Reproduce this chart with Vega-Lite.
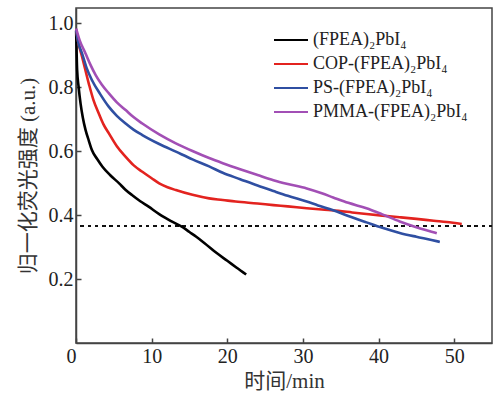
{
  "$schema": "https://vega.github.io/schema/vega-lite/v6.json",
  "width": 416,
  "height": 335,
  "autosize": {"type": "none"},
  "padding": {"left": 76, "top": 8, "right": 1, "bottom": 53},
  "background": "white",
  "config": {
    "font": "Liberation Serif, serif",
    "view": {"stroke": "#444", "strokeWidth": 1.5},
    "axis": {
      "domainColor": "#444", "domainWidth": 1.5,
      "tickColor": "#444", "tickWidth": 1.5, "tickSize": -5,
      "grid": false
    }
  },
  "data": {"values": [
    {"s":"(FPEA)₂PbI₄","t":0.02,"v":0.975},{"s":"(FPEA)₂PbI₄","t":0.15,"v":0.853},{"s":"(FPEA)₂PbI₄","t":0.35,"v":0.8},{"s":"(FPEA)₂PbI₄","t":0.6,"v":0.749},{"s":"(FPEA)₂PbI₄","t":0.9,"v":0.705},{"s":"(FPEA)₂PbI₄","t":1.26,"v":0.666},{"s":"(FPEA)₂PbI₄","t":1.7,"v":0.632},{"s":"(FPEA)₂PbI₄","t":2.1,"v":0.603},{"s":"(FPEA)₂PbI₄","t":2.8,"v":0.575},{"s":"(FPEA)₂PbI₄","t":3.5,"v":0.551},{"s":"(FPEA)₂PbI₄","t":4.5,"v":0.525},{"s":"(FPEA)₂PbI₄","t":5.7,"v":0.499},{"s":"(FPEA)₂PbI₄","t":6.5,"v":0.48},{"s":"(FPEA)₂PbI₄","t":7.4,"v":0.4625},{"s":"(FPEA)₂PbI₄","t":8.5,"v":0.443},{"s":"(FPEA)₂PbI₄","t":9.6,"v":0.426},{"s":"(FPEA)₂PbI₄","t":11.0,"v":0.403},{"s":"(FPEA)₂PbI₄","t":12.5,"v":0.382},{"s":"(FPEA)₂PbI₄","t":14.1,"v":0.362},{"s":"(FPEA)₂PbI₄","t":15.0,"v":0.347},{"s":"(FPEA)₂PbI₄","t":15.9,"v":0.332},{"s":"(FPEA)₂PbI₄","t":17.0,"v":0.312},{"s":"(FPEA)₂PbI₄","t":18.6,"v":0.281},{"s":"(FPEA)₂PbI₄","t":20.0,"v":0.257},{"s":"(FPEA)₂PbI₄","t":21.2,"v":0.236},{"s":"(FPEA)₂PbI₄","t":22.5,"v":0.214},
    {"s":"COP-(FPEA)₂PbI₄","t":0.02,"v":0.978},{"s":"COP-(FPEA)₂PbI₄","t":0.3,"v":0.94},{"s":"COP-(FPEA)₂PbI₄","t":0.8,"v":0.895},{"s":"COP-(FPEA)₂PbI₄","t":1.7,"v":0.81},{"s":"COP-(FPEA)₂PbI₄","t":2.3,"v":0.76},{"s":"COP-(FPEA)₂PbI₄","t":3.0,"v":0.718},{"s":"COP-(FPEA)₂PbI₄","t":3.6,"v":0.685},{"s":"COP-(FPEA)₂PbI₄","t":4.35,"v":0.655},{"s":"COP-(FPEA)₂PbI₄","t":5.4,"v":0.615},{"s":"COP-(FPEA)₂PbI₄","t":6.56,"v":0.582},{"s":"COP-(FPEA)₂PbI₄","t":7.6,"v":0.556},{"s":"COP-(FPEA)₂PbI₄","t":8.77,"v":0.535},{"s":"COP-(FPEA)₂PbI₄","t":10.0,"v":0.515},{"s":"COP-(FPEA)₂PbI₄","t":11.0,"v":0.499},{"s":"COP-(FPEA)₂PbI₄","t":12.1,"v":0.487},{"s":"COP-(FPEA)₂PbI₄","t":13.2,"v":0.478},{"s":"COP-(FPEA)₂PbI₄","t":15.4,"v":0.463},{"s":"COP-(FPEA)₂PbI₄","t":17.6,"v":0.452},{"s":"COP-(FPEA)₂PbI₄","t":19.4,"v":0.447},{"s":"COP-(FPEA)₂PbI₄","t":21.1,"v":0.442},{"s":"COP-(FPEA)₂PbI₄","t":24.0,"v":0.436},{"s":"COP-(FPEA)₂PbI₄","t":26.1,"v":0.431},{"s":"COP-(FPEA)₂PbI₄","t":28.0,"v":0.427},{"s":"COP-(FPEA)₂PbI₄","t":30.5,"v":0.421},{"s":"COP-(FPEA)₂PbI₄","t":32.5,"v":0.417},{"s":"COP-(FPEA)₂PbI₄","t":34.7,"v":0.413},{"s":"COP-(FPEA)₂PbI₄","t":36.5,"v":0.408},{"s":"COP-(FPEA)₂PbI₄","t":38.4,"v":0.403},{"s":"COP-(FPEA)₂PbI₄","t":40.5,"v":0.398},{"s":"COP-(FPEA)₂PbI₄","t":42.8,"v":0.393},{"s":"COP-(FPEA)₂PbI₄","t":45.0,"v":0.388},{"s":"COP-(FPEA)₂PbI₄","t":47.3,"v":0.382},{"s":"COP-(FPEA)₂PbI₄","t":49.0,"v":0.378},{"s":"COP-(FPEA)₂PbI₄","t":51.0,"v":0.372},
    {"s":"PS-(FPEA)₂PbI₄","t":0.02,"v":0.978},{"s":"PS-(FPEA)₂PbI₄","t":0.3,"v":0.94},{"s":"PS-(FPEA)₂PbI₄","t":0.8,"v":0.905},{"s":"PS-(FPEA)₂PbI₄","t":1.4,"v":0.86},{"s":"PS-(FPEA)₂PbI₄","t":2.1,"v":0.822},{"s":"PS-(FPEA)₂PbI₄","t":3.2,"v":0.778},{"s":"PS-(FPEA)₂PbI₄","t":4.35,"v":0.738},{"s":"PS-(FPEA)₂PbI₄","t":5.4,"v":0.71},{"s":"PS-(FPEA)₂PbI₄","t":6.56,"v":0.686},{"s":"PS-(FPEA)₂PbI₄","t":7.6,"v":0.667},{"s":"PS-(FPEA)₂PbI₄","t":8.77,"v":0.65},{"s":"PS-(FPEA)₂PbI₄","t":11.0,"v":0.622},{"s":"PS-(FPEA)₂PbI₄","t":13.2,"v":0.598},{"s":"PS-(FPEA)₂PbI₄","t":15.4,"v":0.574},{"s":"PS-(FPEA)₂PbI₄","t":17.6,"v":0.552},{"s":"PS-(FPEA)₂PbI₄","t":19.4,"v":0.532},{"s":"PS-(FPEA)₂PbI₄","t":21.7,"v":0.512},{"s":"PS-(FPEA)₂PbI₄","t":24.0,"v":0.492},{"s":"PS-(FPEA)₂PbI₄","t":26.1,"v":0.475},{"s":"PS-(FPEA)₂PbI₄","t":28.0,"v":0.46},{"s":"PS-(FPEA)₂PbI₄","t":30.5,"v":0.442},{"s":"PS-(FPEA)₂PbI₄","t":32.0,"v":0.43},{"s":"PS-(FPEA)₂PbI₄","t":34.0,"v":0.415},{"s":"PS-(FPEA)₂PbI₄","t":36.0,"v":0.397},{"s":"PS-(FPEA)₂PbI₄","t":38.4,"v":0.377},{"s":"PS-(FPEA)₂PbI₄","t":40.5,"v":0.36},{"s":"PS-(FPEA)₂PbI₄","t":42.8,"v":0.344},{"s":"PS-(FPEA)₂PbI₄","t":45.0,"v":0.332},{"s":"PS-(FPEA)₂PbI₄","t":47.0,"v":0.322},{"s":"PS-(FPEA)₂PbI₄","t":48.1,"v":0.316},
    {"s":"PMMA-(FPEA)₂PbI₄","t":0.02,"v":0.983},{"s":"PMMA-(FPEA)₂PbI₄","t":0.5,"v":0.945},{"s":"PMMA-(FPEA)₂PbI₄","t":1.26,"v":0.905},{"s":"PMMA-(FPEA)₂PbI₄","t":1.9,"v":0.87},{"s":"PMMA-(FPEA)₂PbI₄","t":2.6,"v":0.8375},{"s":"PMMA-(FPEA)₂PbI₄","t":3.4,"v":0.808},{"s":"PMMA-(FPEA)₂PbI₄","t":4.35,"v":0.78},{"s":"PMMA-(FPEA)₂PbI₄","t":5.4,"v":0.752},{"s":"PMMA-(FPEA)₂PbI₄","t":6.56,"v":0.728},{"s":"PMMA-(FPEA)₂PbI₄","t":7.6,"v":0.706},{"s":"PMMA-(FPEA)₂PbI₄","t":8.77,"v":0.686},{"s":"PMMA-(FPEA)₂PbI₄","t":11.0,"v":0.652},{"s":"PMMA-(FPEA)₂PbI₄","t":13.2,"v":0.624},{"s":"PMMA-(FPEA)₂PbI₄","t":15.4,"v":0.6},{"s":"PMMA-(FPEA)₂PbI₄","t":17.6,"v":0.578},{"s":"PMMA-(FPEA)₂PbI₄","t":19.4,"v":0.562},{"s":"PMMA-(FPEA)₂PbI₄","t":21.7,"v":0.543},{"s":"PMMA-(FPEA)₂PbI₄","t":24.0,"v":0.525},{"s":"PMMA-(FPEA)₂PbI₄","t":26.1,"v":0.509},{"s":"PMMA-(FPEA)₂PbI₄","t":28.0,"v":0.497},{"s":"PMMA-(FPEA)₂PbI₄","t":30.5,"v":0.483},{"s":"PMMA-(FPEA)₂PbI₄","t":32.5,"v":0.468},{"s":"PMMA-(FPEA)₂PbI₄","t":34.0,"v":0.455},{"s":"PMMA-(FPEA)₂PbI₄","t":36.0,"v":0.438},{"s":"PMMA-(FPEA)₂PbI₄","t":38.4,"v":0.421},{"s":"PMMA-(FPEA)₂PbI₄","t":40.5,"v":0.402},{"s":"PMMA-(FPEA)₂PbI₄","t":42.8,"v":0.38},{"s":"PMMA-(FPEA)₂PbI₄","t":45.0,"v":0.362},{"s":"PMMA-(FPEA)₂PbI₄","t":47.0,"v":0.348},{"s":"PMMA-(FPEA)₂PbI₄","t":47.7,"v":0.343}
  ]},
  "layer": [
    {
      "mark": {"type": "rule", "color": "#111", "strokeWidth": 2, "strokeDash": [2.5, 4.8]},
      "encoding": {"y": {"datum": 0.366, "type": "quantitative"}}
    },
    {
      "mark": {"type": "line", "strokeWidth": 2.6, "interpolate": "monotone"},
      "encoding": {
        "x": {"field": "t", "type": "quantitative", "scale": {"domain": [0, 55], "nice": false, "zero": false},
          "axis": {"values": [0, 10, 20, 30, 40, 50], "title": "时间/min", "labelPadding": 8, "titlePadding": 4,
            "labelFont": "Liberation Serif, serif", "labelFontSize": 20, "labelColor": "#222",
            "titleFont": "Liberation Serif, Noto Sans CJK SC, serif", "titleFontSize": 21, "titleFontWeight": "normal", "titleColor": "#333",
            "labelExpr": "datum.value === 0 ? '0  ' : datum.label",
            "labelAlign": {"condition": {"test": "datum.value === 0", "value": "right"}, "value": "center"}}},
        "y": {"field": "v", "type": "quantitative", "scale": {"domain": [0, 1.047], "nice": false, "zero": false},
          "axis": {"values": [0.2, 0.4, 0.6, 0.8, 1.0], "format": ".1f", "title": "归一化荧光强度 (a.u.)", "labelPadding": 8, "titlePadding": 10,
            "labelFont": "Liberation Serif, serif", "labelFontSize": 20, "labelColor": "#222",
            "titleFont": "Liberation Serif, Noto Sans CJK SC, serif", "titleFontSize": 21, "titleFontWeight": "normal", "titleColor": "#333"}},
        "color": {"field": "s", "type": "nominal",
          "scale": {"domain": ["(FPEA)₂PbI₄", "COP-(FPEA)₂PbI₄", "PS-(FPEA)₂PbI₄", "PMMA-(FPEA)₂PbI₄"],
                    "range": ["#000000", "#e3231f", "#2f4fa2", "#a24fb5"]},
          "sort": ["(FPEA)₂PbI₄", "COP-(FPEA)₂PbI₄", "PS-(FPEA)₂PbI₄", "PMMA-(FPEA)₂PbI₄"],
          "legend": {"orient": "none", "legendX": 205, "legendY": 22, "title": null,
            "symbolType": "M-2,0H2", "symbolSize": 289, "symbolStrokeWidth": 2.2,
            "labelFont": "Liberation Serif, serif", "labelFontSize": 18, "labelColor": "#222", "rowPadding": 5, "labelOffset": 12}}
      }
    }
  ]
}
